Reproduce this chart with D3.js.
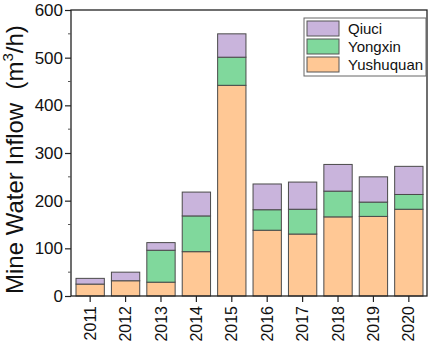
<!DOCTYPE html>
<html>
<head>
<meta charset="utf-8">
<script src="https://d3js.org/d3.v7.min.js"></script>
<style>
  body { margin: 0; background: #fff; }
  svg { display: block; font-family: Arial, "Liberation Sans", sans-serif; }
</style>
</head>
<body>
<div id="chartHere"></div>
<script>
// values (m3/h)
var years = ["2011","2012","2013","2014","2015","2016","2017","2018","2019","2020"];
var yushuquan = [25, 32, 29, 93, 442, 138, 130, 166, 167, 182];
var yongxin   = [0, 0, 67, 75, 59, 43, 52, 54, 30, 31];
var qiuci     = [12, 18, 16, 50, 49, 54, 57, 56, 53, 59];
var seriesNames = ["Yushuquan", "Yongxin", "Qiuci"];
var yTicks = [0, 100, 200, 300, 400, 500, 600];

var colors = { "Yushuquan": "#ffc895", "Yongxin": "#80d89c", "Qiuci": "#c9b4dc" };

var dims = { width: 429, height: 347 };
var margin = { top: 10, right: 2, bottom: 51, left: 71 };

var svg = d3.select("#chartHere").append("svg")
    .attr("width", dims.width)
    .attr("height", dims.height);

var rows = years.map(function (y, i) {
  return { year: y, Yushuquan: yushuquan[i], Yongxin: yongxin[i], Qiuci: qiuci[i] };
});
var stacked = d3.stack().keys(seriesNames)(rows);

var x = d3.scaleBand()
    .domain(years)
    .range([76, 423])
    .paddingInner(0.2)
    .paddingOuter(0);

var y = d3.scaleLinear()
    .domain([0, 600])
    .range([dims.height - margin.bottom, margin.top]);

// bars
svg.append("g").selectAll("g")
  .data(stacked).enter().append("g")
    .attr("fill", function (d) { return colors[d.key]; })
  .selectAll("rect")
  .data(function (d) { return d; }).enter().append("rect")
    .attr("x", function (d) { return x(d.data.year); })
    .attr("width", x.bandwidth())
    .attr("y", function (d) { return y(d[1]); })
    .attr("height", function (d) { return y(d[0]) - y(d[1]); })
    .attr("stroke", "#4a4a4a")
    .attr("stroke-width", 1);

// frame
svg.append("rect")
    .attr("x", margin.left)
    .attr("y", margin.top)
    .attr("width", dims.width - margin.right - margin.left)
    .attr("height", dims.height - margin.bottom - margin.top)
    .attr("fill", "none")
    .attr("stroke", "#222")
    .attr("stroke-width", 1.3);

// y axis
var yAxis = svg.append("g")
    .attr("transform", "translate(" + margin.left + ",0)")
    .call(d3.axisLeft(y).tickValues(yTicks).tickSize(6).tickPadding(2));
yAxis.select(".domain").remove();
yAxis.selectAll("text").attr("font-size", 17).attr("fill", "#111").attr("font-family", "Arial, 'Liberation Sans', sans-serif");
yAxis.selectAll("line").attr("stroke", "#222").attr("stroke-width", 1.2);

// minor ticks
svg.append("g").selectAll("line")
  .data([50, 150, 250, 350, 450, 550]).enter().append("line")
    .attr("x1", margin.left - 3).attr("x2", margin.left)
    .attr("y1", function (d) { return y(d); })
    .attr("y2", function (d) { return y(d); })
    .attr("stroke", "#555");

// x axis
var xAxis = svg.append("g")
    .attr("transform", "translate(0," + (dims.height - margin.bottom) + ")")
    .call(d3.axisBottom(x).tickSize(6).tickPadding(4));
xAxis.select(".domain").remove();
xAxis.selectAll("line").attr("stroke", "#222").attr("stroke-width", 1.2);
xAxis.selectAll("text")
    .attr("font-size", 16)
    .attr("fill", "#111")
    .attr("font-family", "Arial, 'Liberation Sans', sans-serif")
    .attr("transform", "rotate(-90)")
    .attr("text-anchor", "end")
    .attr("dy", "0.35em")
    .attr("x", -10)
    .attr("y", 0);

// y title
var title = svg.append("text")
    .attr("transform", "translate(23," + (dims.height - margin.bottom - 2) + ") rotate(-90)")
    .attr("font-size", 24)
    .attr("fill", "#111");
title.append("tspan").text("Mine Water Inflow\u00a0 (m");
title.append("tspan").attr("font-size", 15).attr("dy", -10).text("3");
title.append("tspan").attr("dy", 10).text("/h)");

// legend
var legendNames = ["Qiuci", "Yongxin", "Yushuquan"];
var legend = svg.append("g");
legend.append("rect")
    .attr("x", 304).attr("y", 18)
    .attr("width", 122).attr("height", 58)
    .attr("fill", "#fff")
    .attr("stroke", "#666")
    .attr("stroke-width", 1);
var li = legend.selectAll("g.item")
  .data(legendNames).enter().append("g")
    .attr("class", "item")
    .attr("transform", function (d, i) { return "translate(307," + (21 + i * 18) + ")"; });
li.append("rect")
    .attr("width", 32).attr("height", 15)
    .attr("fill", function (d) { return colors[d]; })
    .attr("stroke", "#555");
li.append("text")
    .attr("x", 41).attr("y", 7.5)
    .attr("dy", "0.35em")
    .attr("font-size", 15)
    .attr("fill", "#111")
    .text(function (d) { return d; });
</script>
</body>
</html>
